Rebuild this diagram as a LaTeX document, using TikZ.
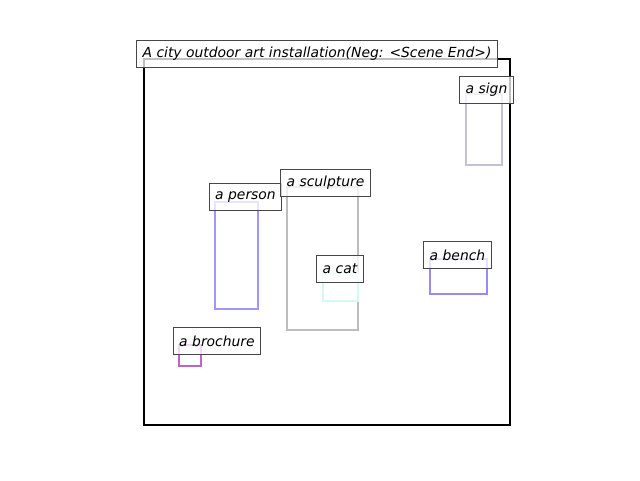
\documentclass[tikz,border=0pt]{standalone}
\usepackage{fontspec}
\setmainfont{DejaVu Sans}
\usepackage{xcolor}
\usetikzlibrary{positioning}
\definecolor{personblue}{RGB}{160,150,255}
\definecolor{benchblue}{RGB}{150,140,240}
\definecolor{sculptgray}{RGB}{190,188,190}
\definecolor{signgray}{RGB}{195,195,215}
\definecolor{catcyan}{RGB}{215,248,242}
\definecolor{brochpurple}{RGB}{190,100,200}

\begin{document}
\begin{tikzpicture}[x=1pt, y=-1pt,
  region/.style={line width=2.4pt},
  tag/.style={draw=black!72, fill=white, fill opacity=0.75, text opacity=1,
    line width=1pt, inner xsep=6pt, minimum height=27pt,
    font=\fontsize{13.9}{16}\selectfont\itshape}]
  \useasboundingbox (0,0) rectangle (640,480);
  % scene frame
  \draw[line width=2.4pt] (144,59) rectangle (510,425);
  % object regions
  \draw[region, personblue] (215,202) rectangle (258,309);
  \draw[region, sculptgray] (287,187) rectangle (358,330);
  \draw[region, catcyan] (323,273) rectangle (358,301);
  \draw[region, brochpurple] (179,345) rectangle (201,366);
  \draw[region, signgray] (466,94) rectangle (502,165);
  \draw[region, benchblue] (430,259) rectangle (487,294);
  % labels
  \node[tag] (title) at (317,54) {A city outdoor art installation(Neg: <Scene End>)};
  \node[tag] (sign) at (486.5,90) {a sign};
  \node[tag] (person) at (245.5,197) {a person};
  \node[tag] (sculpture) at (325.5,183) {a sculpture};
  \node[tag] (cat) at (340,269) {a cat};
  \node[tag] (bench) at (457.5,255) {a bench};
  \node[tag] (brochure) at (217,341) {a brochure};
\end{tikzpicture}
\end{document}
